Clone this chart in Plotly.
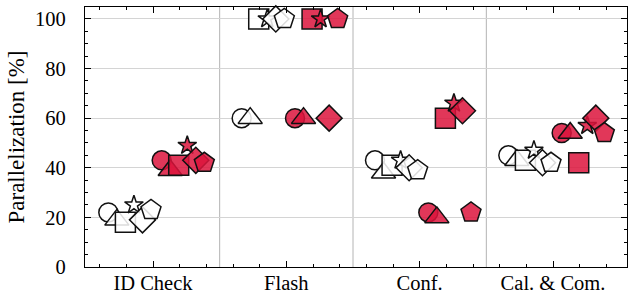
import plotly.graph_objects as go

categories = ["ID Check", "Flash", "Conf.", "Cal. & Com."]
shapes = ["circle", "triangle-up", "square", "star", "diamond", "pentagon"]

# values per shape, per category (white / hollow series)
white_vals = {
    "circle":      [22, 60, 43, 45],
    "triangle-up": [19, 60, 38, 43],
    "square":      [18, 100, 41, 43],
    "star":        [25, 100, 43, 47],
    "diamond":     [19, 100, 40, 42],
    "pentagon":    [23, 100, 39, 42],
}
# red series
red_vals = {
    "circle":      [43, 60, 22, 54],
    "triangle-up": [39, 60, 20, 54],
    "square":      [41, 100, 60, 42],
    "star":        [49, 100, 66, 57],
    "diamond":     [43, 60, 63, 60],
    "pentagon":    [42, 100, 22, 54],
}

# layout / style
white_offsets = [-0.335 + 0.064 * i for i in range(6)]
red_offsets = [0.065 + 0.064 * i for i in range(6)]
sizes = {"circle": 19, "triangle-up": 21, "square": 20, "star": 14,
         "diamond": 20, "pentagon": 21}
FONT = "Liberation Serif, Times New Roman, DejaVu Serif, serif"

fig = go.Figure()

def add_series(vals, offsets, fill):
    for i, s in enumerate(shapes):
        fig.add_trace(go.Scatter(
            x=[k + offsets[i] for k in range(len(categories))],
            y=vals[s],
            mode="markers",
            marker=dict(symbol=s, size=sizes[s], color=fill,
                        line=dict(color="#111111", width=1.5)),
            showlegend=False,
            cliponaxis=False,
        ))

add_series(white_vals, white_offsets, "rgba(255,255,255,0.85)")
add_series(red_vals, red_offsets, "rgba(220,20,60,0.85)")

for xv in [0.5, 1.5, 2.5]:
    fig.add_vline(x=xv, line=dict(color="#b4b4b4", width=1), layer="below")

axis_common = dict(
    showline=True, linecolor="black", linewidth=1.3, mirror="allticks",
    ticks="inside", tickcolor="black", tickwidth=1.2, ticklen=6,
    zeroline=False, automargin=False,
    tickfont=dict(family=FONT, size=20.5, color="black"),
)

fig.update_layout(
    width=631, height=294,
    margin=dict(l=85, r=4, t=7, b=27),
    paper_bgcolor="white", plot_bgcolor="white",
    font=dict(family=FONT, color="black"),
    xaxis=dict(
        range=[-0.51, 3.555],
        tickvals=list(range(len(categories))), ticktext=categories,
        showgrid=False, ticklabelstandoff=-3,
        minor=dict(dtick=0.2, tick0=0, ticks="inside", ticklen=3,
                   tickcolor="black", tickwidth=1, showgrid=False),
        **axis_common,
    ),
    yaxis=dict(
        range=[0, 104.8], dtick=20, tick0=0,
        showgrid=True, gridcolor="#d4d4d4", gridwidth=1,
        ticklabelstandoff=14,
        minor=dict(dtick=5, tick0=0, ticks="inside", ticklen=3,
                   tickcolor="black", tickwidth=1, showgrid=False),
        title=dict(text="Parallelization [%]",
                   font=dict(family=FONT, size=23, color="black"),
                   standoff=3),
        **axis_common,
    ),
)

fig.write_html("out.html",
               config={"displayModeBar": False},
               post_script="document.body.style.margin='0';document.body.style.padding='0';")
